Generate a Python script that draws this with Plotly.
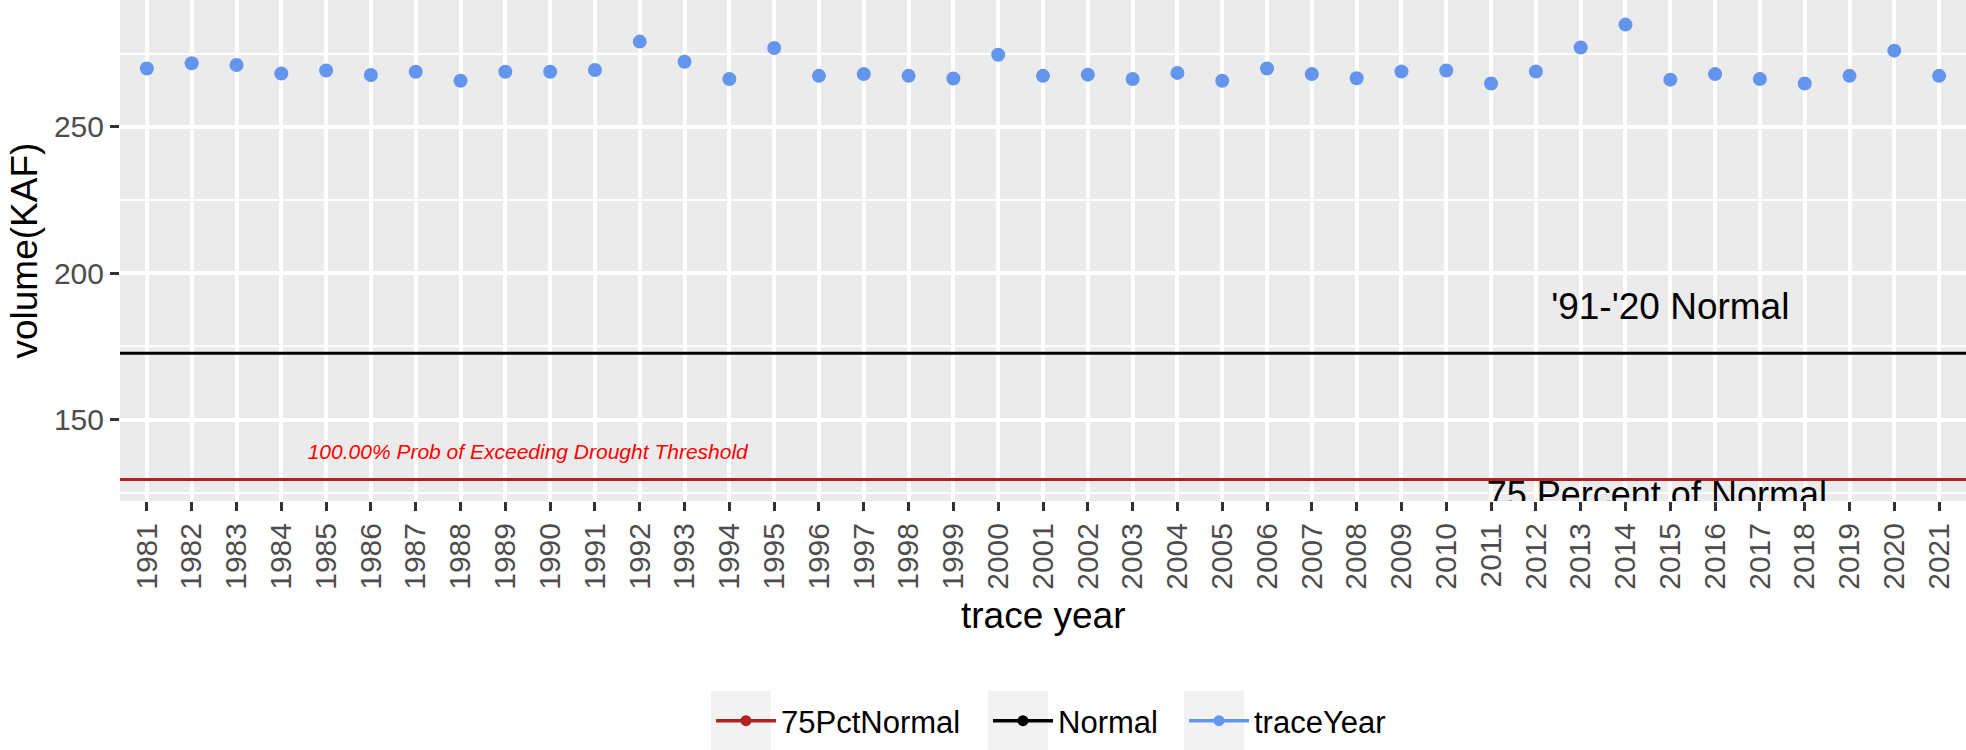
import plotly.graph_objects as go

# ---------------- data ----------------
years = [1981, 1982, 1983, 1984, 1985, 1986, 1987, 1988, 1989, 1990,
         1991, 1992, 1993, 1994, 1995, 1996, 1997, 1998, 1999, 2000,
         2001, 2002, 2003, 2004, 2005, 2006, 2007, 2008, 2009, 2010,
         2011, 2012, 2013, 2014, 2015, 2016, 2017, 2018, 2019, 2020, 2021]
year_labels = [str(y) for y in years]
volumes = [269.9, 271.7, 271.1, 268.2, 269.2, 267.7, 268.8, 265.7, 268.8, 268.8,
           269.4, 279.1, 272.2, 266.3, 276.9, 267.4, 268.0, 267.4, 266.5, 274.6,
           267.4, 267.8, 266.3, 268.4, 265.7, 269.9, 268.0, 266.6, 268.9, 269.2,
           264.8, 268.9, 277.1, 284.9, 266.1, 268.0, 266.3, 264.8, 267.4, 276.0, 267.4]
normal_value = 172.7
pct75_value = 129.5
series_names = ["75PctNormal", "Normal", "traceYear"]
series_colors = ["#B22222", "#000000", "#6495ED"]

normal_label = "'91-'20 Normal"
pct75_label = "75 Percent of Normal"
prob_label = "100.00% Prob of Exceeding Drought Threshold"

FONT = "Liberation Sans, Arial, sans-serif"
W, H = 1966, 750
ML, MB = 120, 249
x_range = [years[0] - 0.6, years[-1] + 0.6]
y_range = [122.2, 293.3]

# legend layout (pixel positions of each key box's left edge)
legend_key_left = [711, 988, 1184]
legend_key_size = 60
legend_center_y = 721
legend_shift = -30  # offset of the plotly legend origin from the key box centre

fig = go.Figure()

# reference lines across the whole panel (drawn as traces from the axis range)
for val, col in [(pct75_value, series_colors[0]), (normal_value, series_colors[1])]:
    fig.add_trace(go.Scatter(x=x_range, y=[val, val], mode="lines", showlegend=False,
                             line=dict(color=col, width=3), hoverinfo="skip",
                             cliponaxis=True))

# legend entries (line + point keys), each in its own legend box
legend_ids = ["legend", "legend2", "legend3"]
for name, col, lid in zip(series_names, series_colors, legend_ids):
    fig.add_trace(go.Scatter(x=[None], y=[None], mode="lines+markers", name=name,
                             line=dict(color=col, width=3.5),
                             marker=dict(color=col, size=11), legend=lid))

# trace year points
fig.add_trace(go.Scatter(x=years, y=volumes, mode="markers", showlegend=False,
                         marker=dict(color=series_colors[2], size=14), name="traceYear"))

# text labels (clipped to panel)
fig.add_trace(go.Scatter(x=[2015], y=[187.5], mode="text", text=[normal_label],
                         textfont=dict(family=FONT, size=37, color="black"),
                         showlegend=False, cliponaxis=True, hoverinfo="skip"))
fig.add_trace(go.Scatter(x=[2014.7], y=[123.3], mode="text", text=[pct75_label],
                         textfont=dict(family=FONT, size=36, color="black"),
                         showlegend=False, cliponaxis=True, hoverinfo="skip"))
fig.add_trace(go.Scatter(x=[1989.5], y=[138.4], mode="text", text=[prob_label],
                         textfont=dict(family=FONT, size=21, color="red", style="italic"),
                         showlegend=False, cliponaxis=True, hoverinfo="skip"))

def legend_cfg(left_px):
    return dict(orientation="h", xref="container", yref="container",
                x=(left_px + legend_key_size / 2 + legend_shift) / W, xanchor="left",
                y=(H - legend_center_y) / H, yanchor="middle",
                font=dict(family=FONT, size=31, color="black"),
                bgcolor="rgba(0,0,0,0)", borderwidth=0, itemwidth=60)

fig.update_layout(
    width=W, height=H,
    margin=dict(l=ML, r=0, t=0, b=MB),
    paper_bgcolor="white", plot_bgcolor="#EBEBEB",
    font=dict(family=FONT, color="black"),
    showlegend=True,
    legend=legend_cfg(legend_key_left[0]),
    legend2=legend_cfg(legend_key_left[1]),
    legend3=legend_cfg(legend_key_left[2]),
    xaxis=dict(range=x_range, tickmode="array", tickvals=years, ticktext=year_labels,
               tickangle=-90, showgrid=True, gridcolor="white", gridwidth=3.5,
               zeroline=False, showline=False, ticks="outside", ticklen=9, tickwidth=3,
               tickcolor="#333333", tickfont=dict(family=FONT, size=30, color="#4D4D4D")),
    yaxis=dict(range=y_range, tick0=0, dtick=50, showgrid=True, gridcolor="white",
               gridwidth=3.5, zeroline=False, showline=False, ticks="outside",
               ticklen=9, tickwidth=3, tickcolor="#333333",
               tickfont=dict(family=FONT, size=30, color="#4D4D4D"),
               minor=dict(dtick=25, tick0=0, showgrid=True, gridcolor="white", gridwidth=1.7)),
)

# grey legend key backgrounds
plot_w = W - ML
plot_h = H - MB
for left in legend_key_left:
    fig.add_shape(type="rect", xref="paper", yref="paper", layer="below",
                  x0=(left - ML) / plot_w, x1=(left + legend_key_size - ML) / plot_w,
                  y0=(plot_h - (legend_center_y + legend_key_size / 2)) / plot_h,
                  y1=(plot_h - (legend_center_y - legend_key_size / 2)) / plot_h,
                  fillcolor="#F2F2F2", line=dict(width=0))

fig.add_annotation(text="trace year", xref="paper", yref="paper", x=0.5, y=-0.228,
                   xanchor="center", yanchor="middle", showarrow=False,
                   font=dict(family=FONT, size=37, color="black"))
fig.add_annotation(text="volume(KAF)", xref="paper", yref="paper", x=-0.052, y=0.5,
                   xanchor="center", yanchor="middle", textangle=-90, showarrow=False,
                   font=dict(family=FONT, size=37, color="black"))

fig.write_html("out.html", config={"displayModeBar": False},
               post_script="document.body.style.margin='0';")
